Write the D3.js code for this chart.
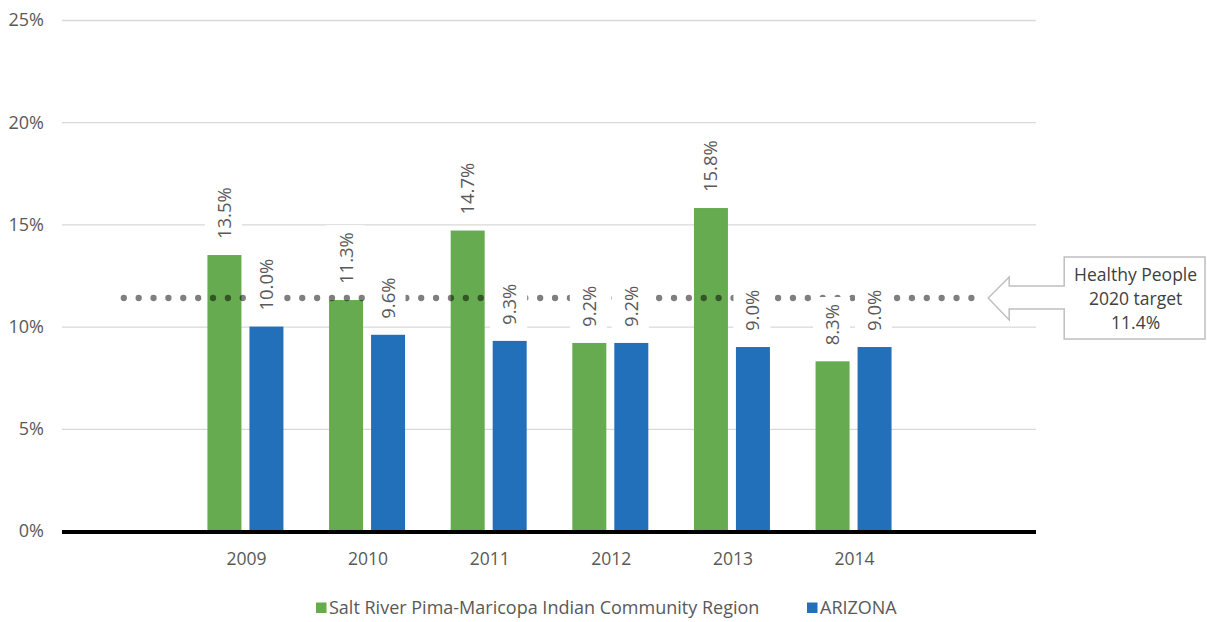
<!DOCTYPE html>
<html>
<head>
<meta charset="utf-8">
<script src="https://cdn.jsdelivr.net/npm/d3@7"></script>
<style>
  html, body { margin: 0; padding: 0; background: #fff; }
  svg { display: block; font-family: "Open Sans", sans-serif; }
</style>
</head>
<body>
<svg id="chart" width="1207" height="622"></svg>
<script>
const years = ["2009", "2010", "2011", "2012", "2013", "2014"];
const srpValues = [13.5, 11.3, 14.7, 9.2, 15.8, 8.3];
const azValues = [10.0, 9.6, 9.3, 9.2, 9.0, 9.0];
const seriesNames = ["Salt River Pima-Maricopa Indian Community Region", "ARIZONA"];
const seriesColors = ["#66ab4f", "#2270ba"];
const yTicks = [0, 5, 10, 15, 20, 25];
const targetValue = 11.4;
const targetLabel = ["Healthy People", "2020 target", "11.4%"];

(function () {
const svg = d3.select("#chart");
const pLeft = 63, pRight = 1036, pTop = 20, pBottom = 531;

// 8 slots: blank slot before and after the years
const slots = ["_a", ...years, "_b"];
const x = d3.scaleBand().domain(slots).range([pLeft, pRight]).paddingInner(0).paddingOuter(0);
const y = d3.scaleLinear().domain([0, 25]).range([pBottom, pTop]);
const barW = 34, gap = 8;

// gridlines
svg.append("g").selectAll("line").data(yTicks.filter(d => d > 0)).join("line")
  .attr("x1", pLeft - 1).attr("x2", pRight)
  .attr("y1", d => y(d) + 0.5).attr("y2", d => y(d) + 0.5)
  .attr("stroke", "#d9d9d9").attr("stroke-width", 1.3);

// y tick labels
svg.append("g").selectAll("text").data(yTicks).join("text")
  .attr("x", 44).attr("y", d => y(d)).attr("dy", "0.35em")
  .attr("text-anchor", "end").attr("fill", "#595959").attr("font-size", 18)
  .text(d => d + "%");

// bars
const series = [srpValues, azValues];
const barData = [];
years.forEach((yr, i) => {
  series.forEach((vals, s) => {
    const cx = x(yr) + x.bandwidth() / 2;
    const x0 = s === 0 ? cx - gap / 2 - barW : cx + gap / 2;
    barData.push({ yr, s, v: vals[i], x0 });
  });
});
svg.append("g").selectAll("rect").data(barData).join("rect")
  .attr("x", d => d.x0).attr("width", barW)
  .attr("y", d => y(d.v)).attr("height", d => y(0) - y(d.v))
  .attr("fill", d => seriesColors[d.s]);

// axis line
svg.append("line").attr("x1", pLeft - 1).attr("x2", pRight)
  .attr("y1", y(0) + 1).attr("y2", y(0) + 1)
  .attr("stroke", "#000").attr("stroke-width", 4);

// x labels
svg.append("g").selectAll("text").data(years).join("text")
  .attr("x", d => x(d) + x.bandwidth() / 2 + 1).attr("y", 565)
  .attr("text-anchor", "middle").attr("fill", "#595959").attr("font-size", 17.5)
  .text(d => d);

// target dotted line
const targetPts = slots.map(s => ({ s, v: targetValue }));
const line = d3.line().x(d => x(d.s) + x.bandwidth() / 2).y(d => y(d.v));
svg.append("path").datum(targetPts)
  .attr("d", line)
  .attr("fill", "none").attr("stroke", "#000").attr("stroke-opacity", 0.5)
  .attr("stroke-width", 6.3).attr("stroke-linecap", "round")
  .attr("stroke-dasharray", "0 14.87");

// data labels with white background
const lblG = svg.append("g");
barData.forEach(d => {
  const cx = d.x0 + barW / 2;
  const g = lblG.append("g").attr("transform", `translate(${cx},${y(d.v) - 16}) rotate(-90)`);
  const bg = g.append("rect").attr("fill", "#fff");
  const t = g.append("text").attr("x", 0).attr("y", 0).attr("dy", "0.35em")
    .attr("fill", "#595959").attr("font-size", 18.5)
    .text(d.v.toFixed(1) + "%");
  const bb = t.node().getBBox();
  bg.attr("x", bb.x - 7).attr("y", bb.y - 6).attr("width", bb.width + 14).attr("height", bb.height + 12);
});

// callout
const ty = y(targetValue);
const tipX = x("_b") + x.bandwidth() / 2 + 13;
const headX = tipX + 21, boxX = tipX + 76, boxR = 1205;
const path = d3.path();
path.moveTo(tipX, ty);
path.lineTo(headX, ty - 21);
path.lineTo(headX, ty - 12);
path.lineTo(boxX, ty - 12);
path.lineTo(boxX, ty - 41);
path.lineTo(boxR, ty - 41);
path.lineTo(boxR, ty + 41);
path.lineTo(boxX, ty + 41);
path.lineTo(boxX, ty + 11);
path.lineTo(headX, ty + 11);
path.lineTo(headX, ty + 22);
path.closePath();
svg.append("path").attr("d", path.toString())
  .attr("fill", "#fff").attr("stroke", "#bfbfbf").attr("stroke-width", 1.5);
svg.append("g").selectAll("text").data(targetLabel).join("text")
  .attr("x", (boxX + boxR) / 2 + 1).attr("y", (d, i) => ty - 23 + i * 24).attr("dy", "0.35em")
  .attr("text-anchor", "middle").attr("fill", "#404040").attr("font-size", 17.5)
  .text(d => d);

// legend
const legend = svg.append("g");
const legX = [316, 807];
seriesNames.forEach((n, i) => {
  legend.append("rect").attr("x", legX[i]).attr("y", 602.5).attr("width", 10.5).attr("height", 10.5)
    .attr("fill", seriesColors[i]);
  legend.append("text").attr("x", legX[i] + 13).attr("y", 608).attr("dy", "0.35em")
    .attr("fill", "#595959").attr("font-size", 18).text(n);
});
})();
</script>
</body>
</html>
